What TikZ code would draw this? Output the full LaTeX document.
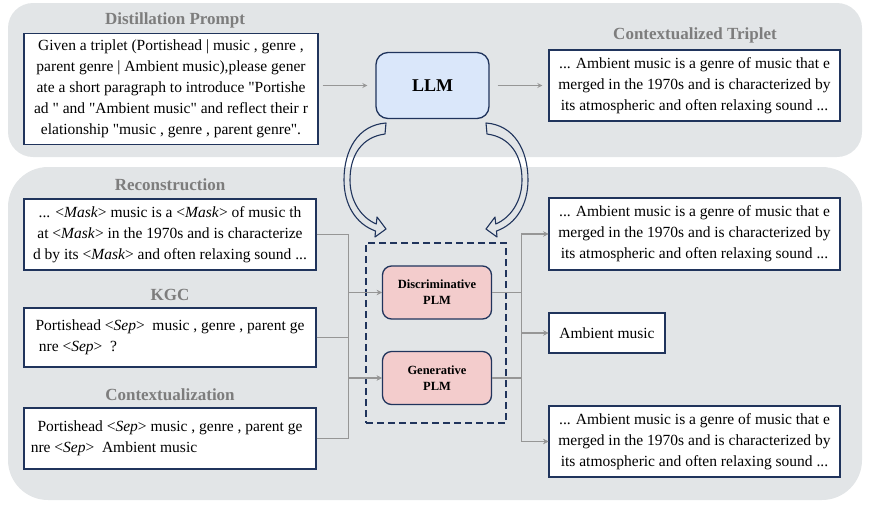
\documentclass[tikz,border=0pt]{standalone}
\usepackage{fontspec}
\setmainfont{Liberation Serif}
\usetikzlibrary{arrows}

\definecolor{panelgray}{RGB}{226,229,231}
\definecolor{navy}{RGB}{32,52,92}
\definecolor{llmblue}{RGB}{218,231,250}
\definecolor{plmpink}{RGB}{243,204,204}
\definecolor{titlegray}{RGB}{125,125,125}
\definecolor{wiregray}{RGB}{150,150,150}
\newcommand{\dq}{\textquotedbl}

\begin{document}
\begin{tikzpicture}[x=1pt, y=-1pt, >=stealth,
    txtbox/.style={draw=navy, line width=1.3pt, fill=white, inner sep=0pt, align=center,
        minimum width=292pt, font=\fontsize{15.5}{21}\selectfont},
    title/.style={text=titlegray, font=\fontsize{17}{20}\selectfont\bfseries},
    plm/.style={draw=navy, line width=1.3pt, fill=plmpink, rounded corners=9pt,
        minimum width=109pt, minimum height=53pt, align=center,
        font=\fontsize{12.5}{16}\selectfont\bfseries},
    conn/.style={->, draw=wiregray, line width=1.2pt}]

    \useasboundingbox (0,0) rectangle (872,507);

    %%% Panels
    \fill[panelgray, rounded corners=25pt] (8,3) rectangle (862,157);
    \fill[panelgray, rounded corners=40pt] (8,167) rectangle (862,500);

    %%% Distillation (top)
    \node (t1) [title] at (175,20) {Distillation Prompt};
    \node (prompt) [txtbox, minimum width=294pt, minimum height=111pt] at (171,89)
        {Given a triplet (Portishead | music , genre ,\\
         parent genre | Ambient music),please gener\\
         ate a short paragraph to introduce \dq Portishe\\
         ad \dq\ and \dq Ambient music\dq\ and reflect their r\\
         elationship \dq music , genre , parent genre\dq.};

    \node (llm) [draw=navy, line width=1.3pt, fill=llmblue, rounded corners=12pt,
        minimum width=113pt, minimum height=66pt,
        font=\fontsize{18}{20}\selectfont\bfseries] at (432.5,85.5) {LLM};

    \node (t2) [title] at (695,35) {Contextualized Triplet};
    \node (triplet) [txtbox, minimum width=291pt, minimum height=71pt] at (694.5,85.5)
        {... Ambient music is a genre of music that e\\
         merged in the 1970s and is characterized by\\
         its atmospheric and often relaxing sound ...};

    \draw[conn, shorten <=4pt, shorten >=8pt] (llm.west -| prompt.east) -- (llm.west);
    \draw[conn, shorten <=8pt, shorten >=6pt] (llm.east) -- (triplet.west);

    %%% Training tasks (bottom)
    \node (t3) [title] at (170,185) {Reconstruction};
    \node (recon) [txtbox, minimum height=71pt] at (170,234.5)
        {... <\textit{Mask}> music is a <\textit{Mask}> of music th\\
         at <\textit{Mask}> in the 1970s and is characterize\\
         d by its <\textit{Mask}> and often relaxing sound ...};

    \node (t4) [title] at (170,295) {KGC};
    \node (kgc) [txtbox, minimum height=59pt] at (170,337.5)
        {Portishead <\textit{Sep}>\ \ music , genre , parent ge\\
         nre <\textit{Sep}>\ \ ?\hspace*{184pt}};

    \node (t5) [title] at (170,395) {Contextualization};
    \node (ctx) [txtbox, minimum height=61pt] at (170,438.5)
        {Portishead <\textit{Sep}> music , genre , parent ge\\
         nre <\textit{Sep}>\ \ Ambient music\hspace*{112pt}};

    %%% PLMs
    \node (plms) [draw=navy, line width=1.3pt, dash pattern=on 7pt off 4pt,
        minimum width=140pt, minimum height=180pt] at (436,333) {};
    \node (disc) [plm] at (437,292.5) {Discriminative\\PLM};
    \node (gen)  [plm] at (437,378) {Generative\\PLM};

    %%% Outputs
    \node (out1) [txtbox, minimum width=291pt, minimum height=72pt] at (694.5,234)
        {... Ambient music is a genre of music that e\\
         merged in the 1970s and is characterized by\\
         its atmospheric and often relaxing sound ...};
    \node (out2) [txtbox, minimum width=116pt, minimum height=40pt] at (607,333)
        {Ambient music};
    \node (out3) [txtbox, minimum width=291pt, minimum height=71pt] at (694.5,441.5)
        {... Ambient music is a genre of music that e\\
         merged in the 1970s and is characterized by\\
         its atmospheric and often relaxing sound ...};

    %%% Wires into and out of the PLMs
    \draw[conn] (recon.east) -- ++(32,0) |- (disc.west);
    \draw[conn] (kgc.east) -- ++(32,0) |- (disc.west);
    \draw[conn] (kgc.east) -- ++(32,0) |- (gen.west);
    \draw[conn] (ctx.east) -- ++(32,0) |- (gen.west);
    \foreach \m in {disc,gen}
        \foreach \o in {out1,out2,out3}
            \draw[conn] (\m.east) -- ++(29.5,0) |- (\o.west);

    %%% Hollow curved arrows from the LLM down to the PLMs
    \foreach \s in {1,-1}
        \draw[navy, line width=1.1pt, line join=round, xshift=436pt, xscale=\s]
            (-50,123) .. controls (-78,125) and (-92,150) .. (-92,180)
            .. controls (-92,205) and (-80,224) .. (-60.5,231)
            -- (-61,237) -- (-50,229) -- (-59,217) -- (-59.7,224)
            .. controls (-74,218) and (-86,202) .. (-86,180)
            .. controls (-86,155) and (-74,137) .. (-51,134) -- cycle;

\end{tikzpicture}
\end{document}
